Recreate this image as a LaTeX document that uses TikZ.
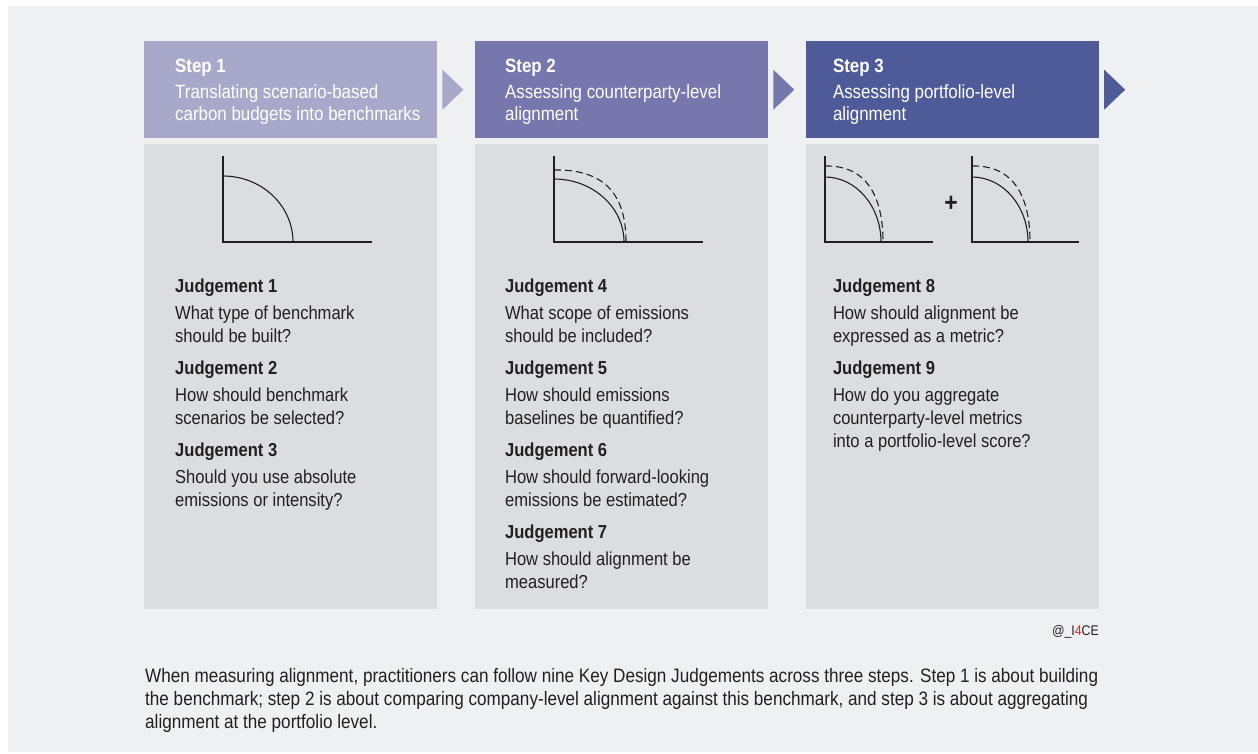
\documentclass[tikz,border=0pt]{standalone}
\usepackage{fontspec}
\setmainfont{Liberation Sans}[FakeStretch=0.88]
\usetikzlibrary{positioning, calc}

\definecolor{pagebg}{HTML}{EFF0F2}
\definecolor{panelbg}{HTML}{DCDDDF}
\definecolor{stepone}{HTML}{A8A9CA}
\definecolor{steptwo}{HTML}{7577AD}
\definecolor{stepthree}{HTML}{4F5B98}
\definecolor{ink}{HTML}{231F20}
\definecolor{ifourred}{HTML}{E3262C}

\begin{document}
\begin{tikzpicture}[x=1pt, y=-1pt]
	% Define styles
	\tikzset{
		head/.style={rectangle, inner sep=0pt, minimum width=293pt, minimum height=97pt},
		panel/.style={rectangle, fill=panelbg, inner sep=0pt, minimum width=293pt, minimum height=465pt},
		headtext/.style={anchor=north west, inner sep=0pt, align=left, text=white, font=\fontsize{19.2}{22}\selectfont},
		bodytext/.style={anchor=north west, inner sep=0pt, align=left, text=ink, font=\fontsize{18.8}{23}\selectfont},
		axis/.style={draw=ink, line width=2pt},
		curve/.style={draw=ink, line width=1.1pt},
		future/.style={curve, dash pattern=on 7pt off 4pt}
	}
	
	\useasboundingbox (0,0) rectangle (1258,754);
	\fill[pagebg] (8,6) rectangle (1258,752);
	
	% Headers
	\node[head, fill=stepone, anchor=north west] (h1) at (144,41) {};
	\node[head, fill=steptwo, right=37.5pt of h1] (h2) {};
	\node[head, fill=stepthree, right=37.5pt of h2] (h3) {};
	
	\node[headtext] (s1) at ($(h1.north west)+(31,18)$) {\textbf{Step 1}\\[4pt]Translating scenario-based\\carbon budgets into benchmarks};
	\node[headtext] (s2) at ($(h2.north west)+(30,18)$) {\textbf{Step 2}\\[4pt]Assessing counterparty-level\\alignment};
	\node[headtext] (s3) at ($(h3.north west)+(27,18)$) {\textbf{Step 3}\\[4pt]Assessing portfolio-level\\alignment};
	
	% Chevrons
	\fill[stepone] ($(h1.east)+(5,-20)$) -- ++(21,20) -- ++(-21,20) -- cycle;
	\fill[steptwo] ($(h2.east)+(5,-20)$) -- ++(21,20) -- ++(-21,20) -- cycle;
	\fill[stepthree] ($(h3.east)+(5,-20)$) -- ++(21,20) -- ++(-21,20) -- cycle;
	
	% Panels
	\node[panel, below=5pt of h1] (b1) {};
	\node[panel, below=5pt of h2] (b2) {};
	\node[panel, below=5pt of h3] (b3) {};
	
	% Charts
	\draw[axis] (223,156) -- (223,242) -- (372,242);
	\draw[curve] (223,176) arc[start angle=-90, end angle=0, x radius=70, y radius=66];
	
	\draw[axis] (554,156) -- (554,242) -- (703,242);
	\draw[curve] (554,179) arc[start angle=-90, end angle=0, x radius=70, y radius=63];
	\draw[future] (554,170) .. controls (606,169) and (626,196) .. (626,242);
	
	\foreach \ox/\oy in {825/933, 972/1079} {
		\draw[axis] (\ox,156) -- (\ox,242) -- (\oy,242);
		\draw[curve] (\ox,177) arc[start angle=-90, end angle=0, x radius=56, y radius=65];
		\draw[future] (\ox,166) .. controls ($(\ox,165)+(44,0)$) and ($(\ox,200)+(58,0)$) .. ($(\ox,242)+(58,0)$);
	}
	\node[text=ink, font=\fontsize{26}{26}\bfseries] (plus) at (951,204) {+};
	
	% Judgements
	\node[bodytext] (j1) at ($(b1.north west)+(31,135)$) {\textbf{Judgement 1}\\[4pt]What type of benchmark\\should be built?\\[9pt]\textbf{Judgement 2}\\[4pt]How should benchmark\\scenarios be selected?\\[9pt]\textbf{Judgement 3}\\[4pt]Should you use absolute\\emissions or intensity?};
	\node[bodytext] (j2) at ($(b2.north west)+(30,135)$) {\textbf{Judgement 4}\\[4pt]What scope of emissions\\should be included?\\[9pt]\textbf{Judgement 5}\\[4pt]How should emissions\\baselines be quantified?\\[9pt]\textbf{Judgement 6}\\[4pt]How should forward-looking\\emissions be estimated?\\[9pt]\textbf{Judgement 7}\\[4pt]How should alignment be\\measured?};
	\node[bodytext] (j3) at ($(b3.north west)+(27,135)$) {\textbf{Judgement 8}\\[4pt]How should alignment be\\expressed as a metric?\\[9pt]\textbf{Judgement 9}\\[4pt]How do you aggregate\\counterparty-level metrics\\into a portfolio-level score?};
	
	% Credit and note
	\node[anchor=east, inner sep=0pt, text=ink, font=\fontsize{14}{16}\selectfont] (credit) at (1099,632) {@\_I\textcolor{ifourred}{4}CE};
	\node[bodytext, font=\fontsize{19.45}{23}\selectfont] (note) at (145,668) {When measuring alignment, practitioners can follow nine Key Design Judgements across three steps. Step 1 is about building\\the benchmark; step 2 is about comparing company-level alignment against this benchmark, and step 3 is about aggregating\\alignment at the portfolio level.};
\end{tikzpicture}
\end{document}
